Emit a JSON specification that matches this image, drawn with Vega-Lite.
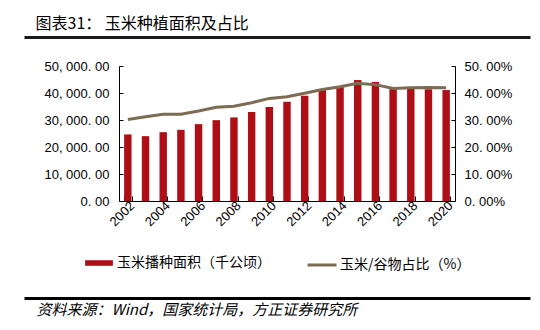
{
  "$schema": "https://vega.github.io/schema/vega-lite/v6.json",
  "width": 336,
  "height": 135,
  "autosize": {"type": "none"},
  "padding": {"left": 119, "top": 66, "right": 85, "bottom": 129},
  "background": "white",
  "config": {
    "view": {"stroke": null},
    "font": "Liberation Sans",
    "axis": {"grid": false}
  },
  "data": {
    "values": [
      {"year": 2002, "area": 24650, "share": 0.302},
      {"year": 2003, "area": 24020, "share": 0.312},
      {"year": 2004, "area": 25500, "share": 0.321},
      {"year": 2005, "area": 26360, "share": 0.321},
      {"year": 2006, "area": 28470, "share": 0.333},
      {"year": 2007, "area": 29950, "share": 0.347},
      {"year": 2008, "area": 30950, "share": 0.351},
      {"year": 2009, "area": 32920, "share": 0.364},
      {"year": 2010, "area": 34780, "share": 0.380},
      {"year": 2011, "area": 36750, "share": 0.386},
      {"year": 2012, "area": 38980, "share": 0.399},
      {"year": 2013, "area": 41100, "share": 0.413},
      {"year": 2014, "area": 42320, "share": 0.423},
      {"year": 2015, "area": 44800, "share": 0.436},
      {"year": 2016, "area": 44060, "share": 0.431},
      {"year": 2017, "area": 41460, "share": 0.417},
      {"year": 2018, "area": 41570, "share": 0.419},
      {"year": 2019, "area": 41350, "share": 0.420},
      {"year": 2020, "area": 41090, "share": 0.419}
    ]
  },
  "layer": [
    {
      "mark": {"type": "point", "opacity": 0},
      "encoding": {
        "x": {
          "field": "year",
          "type": "quantitative",
          "scale": {"domain": [2002, 2021], "range": [-95, 411], "nice": false, "zero": false},
          "axis": {
            "orient": "top",
            "offset": 29,
            "domain": true,
            "domainColor": "#1A1A1A",
            "domainWidth": 3,
            "ticks": false,
            "labels": false,
            "grid": false,
            "title": "图表31：   玉米种植面积及占比",
            "titleAnchor": "start",
            "titleAlign": "left",
            "titleX": -84,
            "titleFont": "Noto Sans CJK SC",
            "titleFontSize": 16,
            "titleFontWeight": "normal",
            "titleColor": "#000000",
            "titlePadding": 6
          }
        }
      }
    },
    {
      "layer": [
        {
          "mark": {"type": "bar"},
          "encoding": {
            "x": {
              "field": "year",
              "type": "ordinal",
              "scale": {"paddingInner": 0.58, "paddingOuter": 0.29},
              "axis": {
                "values": [2002, 2004, 2006, 2008, 2010, 2012, 2014, 2016, 2018, 2020],
                "title": null,
                "labelAngle": -45,
                "labelFontSize": 13,
                "labelColor": "#000000",
                "labelOverlap": false,
                "domainColor": "#000000",
                "tickColor": "#000000",
                "tickSize": -5,
                "tickBand": "extent",
                "labelPadding": 3
              }
            },
            "y": {
              "field": "area",
              "type": "quantitative",
              "scale": {"domain": [0, 50000], "nice": false},
              "axis": {
                "values": [0, 10000, 20000, 30000, 40000, 50000],
                "labelExpr": "replace(replace(format(datum.value, ',.2f'), ',', ', '), '.', '. ')",
                "title": null,
                "labelFontSize": 13,
                "labelColor": "#000000",
                "domainColor": "#000000",
                "tickColor": "#000000",
                "tickSize": -4,
                "labelPadding": 14
              }
            },
            "fill": {
              "datum": "玉米播种面积（千公顷）",
              "scale": {"range": ["#AE0E16"]},
              "legend": {
                "orient": "none",
                "legendX": -34,
                "legendY": 183,
                "title": null,
                "padding": 0,
                "symbolType": "M-1,-0.2H1V0.2H-1Z",
                "symbolSize": 770,
                "symbolStrokeWidth": 0,
                "labelFont": "Noto Sans CJK SC",
                "labelFontSize": 14,
                "labelColor": "#000000",
                "labelOffset": 4
              }
            }
          }
        },
        {
          "mark": {"type": "line", "strokeWidth": 3},
          "encoding": {
            "x": {"field": "year", "type": "ordinal"},
            "y": {
              "field": "share",
              "type": "quantitative",
              "scale": {"domain": [0, 0.5], "nice": false},
              "axis": {
                "orient": "right",
                "values": [0, 0.1, 0.2, 0.3, 0.4, 0.5],
                "labelExpr": "replace(format(datum.value, '.2%'), '.', '. ')",
                "title": null,
                "labelFontSize": 13,
                "labelColor": "#000000",
                "domainColor": "#000000",
                "tickColor": "#000000",
                "tickSize": -4,
                "labelPadding": 13
              }
            },
            "stroke": {
              "datum": "玉米/谷物占比（%）",
              "scale": {"range": ["#7D6C52"]},
              "legend": {
                "orient": "none",
                "legendX": 187,
                "legendY": 183,
                "title": null,
                "padding": 0,
                "symbolType": "stroke",
                "symbolSize": 841,
                "symbolStrokeWidth": 3,
                "labelFont": "Noto Sans CJK SC",
                "labelFontSize": 14,
                "labelColor": "#000000",
                "labelOffset": 2
              }
            }
          }
        }
      ],
      "resolve": {"scale": {"y": "independent"}}
    },
    {
      "mark": {"type": "point", "opacity": 0},
      "encoding": {
        "x": {
          "field": "year",
          "type": "quantitative",
          "scale": {"domain": [2002, 2020], "range": [-95, 411], "nice": false, "zero": false},
          "axis": {
            "orient": "bottom",
            "offset": 97,
            "domain": true,
            "domainColor": "#000000",
            "domainWidth": 3,
            "ticks": false,
            "labels": false,
            "grid": false,
            "title": "资料来源：Wind，国家统计局，方正证券研究所",
            "titleAnchor": "start",
            "titleAlign": "left",
            "titleX": -83,
            "titleFont": "Noto Sans CJK SC",
            "titleFontSize": 15,
            "titleFontStyle": "italic",
            "titleFontWeight": "normal",
            "titleColor": "#000000",
            "titlePadding": 4
          }
        }
      }
    }
  ],
  "resolve": {"scale": {"x": "independent", "y": "independent"}, "axis": {"x": "independent"}}
}
